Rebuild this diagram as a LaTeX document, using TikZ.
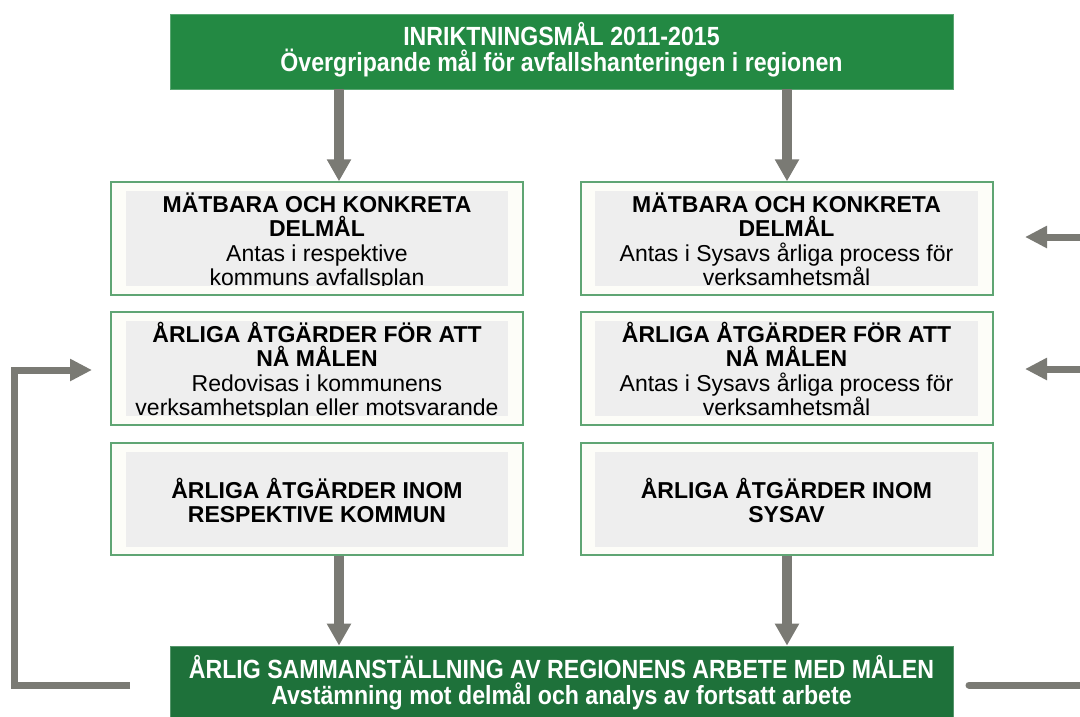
\documentclass[tikz,border=0pt]{standalone}
\usepackage{fontspec}
\setmainfont{Liberation Sans}
\newfontfamily\narrowfont[FakeStretch=0.88]{Liberation Sans}
\usetikzlibrary{arrows.meta}
\definecolor{topgreen}{RGB}{35,137,67}
\definecolor{botgreen}{RGB}{30,113,58}
\definecolor{boxline}{RGB}{95,165,115}
\definecolor{boxfill}{RGB}{253,253,248}
\definecolor{innergray}{RGB}{238,238,238}
\definecolor{arrowgray}{RGB}{122,122,116}
\tikzset{
  greenbox/.style={draw=#1!75!white, fill=#1, line width=0.8pt, minimum width=783pt, minimum height=75pt, inner sep=0pt},
  wbox/.style={draw=boxline, fill=boxfill, line width=1.4pt, minimum width=412pt, minimum height=113pt, inner sep=0pt},
  greentext/.style={text=white, align=center, inner sep=0pt, font=\narrowfont\bfseries\fontsize{26.3}{26}\selectfont},
  boxtext/.style={text=black, align=center, inner sep=0pt, font=\fontsize{23}{24.5}\selectfont},
  garrow/.style={draw=arrowgray, line width=9.5pt, -{Triangle[width=23pt,length=22pt]}},
  fline/.style={draw=arrowgray, line width=7pt, line join=miter},
  farrow/.style={fline, -{Triangle[width=21pt,length=22pt]}}
}
\begin{document}
\begin{tikzpicture}[x=1pt,y=-1pt]
\useasboundingbox (0,0) rectangle (1080,716);
% green boxes
\node[greenbox=topgreen] (top) at (561.5,51.5) {};
\node[greentext, anchor=north] (toptxt) at (561.5,19) {\rule{0pt}{26pt}INRIKTNINGSMÅL 2011-2015\\Övergripande mål för avfallshanteringen i regionen};
\node[greenbox=botgreen, minimum height=72pt] (bot) at (561.5,682) {};
\node[greentext, anchor=north] (bottxt) at (561.5,652) {\rule{0pt}{26pt}ÅRLIG SAMMANSTÄLLNING AV REGIONENS ARBETE MED MÅLEN\\Avstämning mot delmål och analys av fortsatt arbete};
% white boxes
\node[wbox] (l1) at (317,238.5) {};
\node[wbox] (l2) at (317,368.5) {};
\node[wbox, minimum height=112pt] (l3) at (317,499) {};
\node[wbox] (r1) at (787,238.5) {};
\node[wbox] (r2) at (787,368.5) {};
\node[wbox, minimum height=112pt] (r3) at (787,499) {};
% inner gray panels
\fill[innergray] (126,190.5) rectangle (508,285.5);
\fill[innergray] (126,321) rectangle (508,416);
\fill[innergray] (126,452) rectangle (508,547);
\fill[innergray] (595,190.5) rectangle (978,285.5);
\fill[innergray] (595,321) rectangle (978,416);
\fill[innergray] (595,452) rectangle (978,547);
% texts
\begin{scope}
\clip (126,190.5) rectangle (508,285.5);
\node[boxtext, anchor=north] (l1t) at (317,189) {\rule{0pt}{23pt}\textbf{MÄTBARA OCH KONKRETA}\\\textbf{DELMÅL}\\Antas i respektive\\kommuns avfallsplan};
\end{scope}
\begin{scope}
\clip (126,321) rectangle (508,416);
\node[boxtext, anchor=north] (l2t) at (317,319) {\rule{0pt}{23pt}\textbf{ÅRLIGA ÅTGÄRDER FÖR ATT}\\\textbf{NÅ MÅLEN}\\Redovisas i kommunens\\verksamhetsplan eller motsvarande};
\end{scope}
\node[boxtext, anchor=north] (l3t) at (317,475) {\rule{0pt}{23pt}\textbf{ÅRLIGA ÅTGÄRDER INOM}\\\textbf{RESPEKTIVE KOMMUN}};
\begin{scope}
\clip (595,190.5) rectangle (978,285.5);
\node[boxtext, anchor=north] (r1t) at (786.5,189) {\rule{0pt}{23pt}\textbf{MÄTBARA OCH KONKRETA}\\\textbf{DELMÅL}\\Antas i Sysavs årliga process för\\verksamhetsmål};
\end{scope}
\begin{scope}
\clip (595,321) rectangle (978,416);
\node[boxtext, anchor=north] (r2t) at (786.5,319) {\rule{0pt}{23pt}\textbf{ÅRLIGA ÅTGÄRDER FÖR ATT}\\\textbf{NÅ MÅLEN}\\Antas i Sysavs årliga process för\\verksamhetsmål};
\end{scope}
\node[boxtext, anchor=north] (r3t) at (786.5,475) {\rule{0pt}{23pt}\textbf{ÅRLIGA ÅTGÄRDER INOM}\\\textbf{SYSAV}};
% arrow columns
\coordinate (xL) at (339,0);
\coordinate (xR) at (787,0);
\draw[garrow] (xL |- top.south) -- (xL |- l1.north);
\draw[garrow] (xR |- top.south) -- (xR |- r1.north);
\draw[garrow] (xL |- l3.south) -- (xL |- bot.north);
\draw[garrow] (xR |- r3.south) -- (xR |- bot.north);
% feedback loop left
\coordinate (fl0) at (130,685);
\coordinate (fl1) at (14,685);
\coordinate (fl2) at (14,370);
\coordinate (fl3) at (92,370);
\draw[farrow] (fl0) -- (fl1) -- (fl2) -- (fl3);
% feedback right
\coordinate (fr0) at (969,685);
\coordinate (fr1) at (1082,685);
\draw[fline, line cap=round] (fr0) -- (fr1);
\coordinate (ra0) at (1082,237);
\coordinate (ra1) at (1025,237);
\coordinate (rb0) at (1082,369);
\coordinate (rb1) at (1025,369);
\draw[farrow] (ra0) -- (ra1);
\draw[farrow] (rb0) -- (rb1);
\end{tikzpicture}
\end{document}
